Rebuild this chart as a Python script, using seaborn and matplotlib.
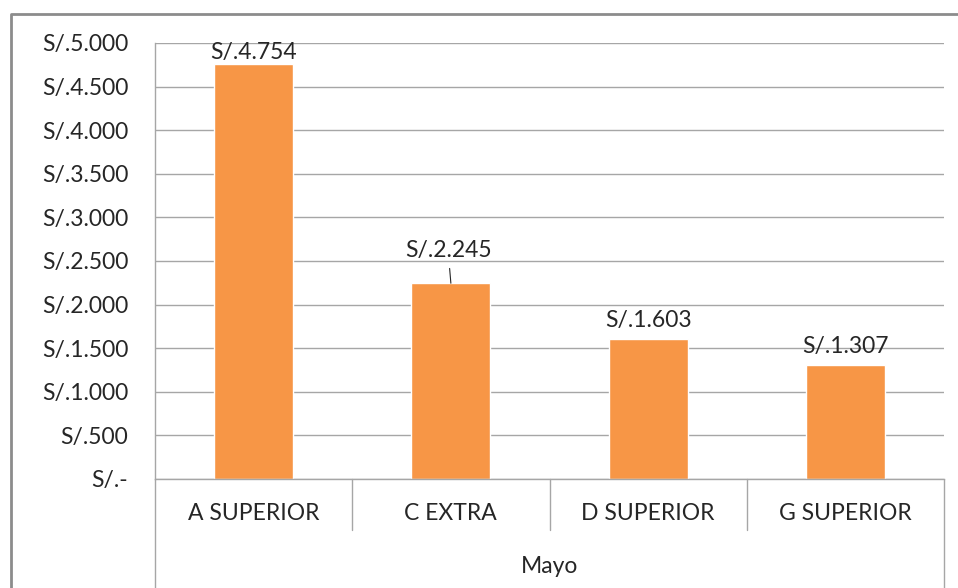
import matplotlib
matplotlib.use("Agg")
import matplotlib.pyplot as plt
import matplotlib.transforms as mtransforms
from matplotlib.lines import Line2D
import seaborn as sns

# Datos
productos = ["A SUPERIOR", "C EXTRA", "D SUPERIOR", "G SUPERIOR"]
ventas = [4754, 2245, 1603, 1307]
mes = "Mayo"

sns.set_style("white")
plt.rcParams["font.family"] = ["Lato", "DejaVu Sans"]

W, H = 958, 588
fig = plt.figure(figsize=(W / 100, H / 100), dpi=100)
ax = fig.add_axes([155 / W, 1 - 479 / H, (944 - 155) / W, (479 - 43) / H])

naranja = "#F79646"
gris = "#A6A6A6"
texto = "#262626"
fs = 16.5

sns.barplot(x=productos, y=ventas, color=naranja, width=0.4, saturation=1, ax=ax)
ax.set_xlim(-0.5, 3.5)
ax.set_ylim(0, 5000)


def soles(v):
    if v == 0:
        return "S/.-"
    return "S/." + f"{int(v):,}".replace(",", ".")


yt = list(range(0, 5001, 500))
ax.set_yticks(yt)
ax.set_yticklabels([soles(v) for v in yt], fontsize=fs, color=texto)
ax.tick_params(axis="y", length=5.8, color=gris, width=1, pad=13.5)
ax.set_xticks([])
ax.set_xlabel("")
ax.set_ylabel("")
ax.yaxis.grid(True, color=gris, linewidth=1)
ax.set_axisbelow(True)
for s in ["top", "right"]:
    ax.spines[s].set_visible(False)
for s in ["left", "bottom"]:
    ax.spines[s].set_color(gris)
    ax.spines[s].set_linewidth(1)

# etiquetas de datos
for i, v in enumerate(ventas):
    if i == 1:
        ax.annotate(soles(v), xy=(i, v), xytext=(-2, 16), textcoords="offset points",
                    ha="center", va="bottom", fontsize=fs, color=texto,
                    arrowprops=dict(arrowstyle="-", color=texto, lw=0.8,
                                    shrinkA=3, shrinkB=0))
    else:
        ax.annotate(soles(v), xy=(i, v), xytext=(0, 1 if i == 0 else 6),
                    textcoords="offset points", ha="center", va="bottom",
                    fontsize=fs, color=texto)

# eje de categorias en dos niveles
trans = mtransforms.blended_transform_factory(ax.transData, ax.transAxes)
for k, x in enumerate([-0.5, 0.5, 1.5, 2.5, 3.5]):
    y0 = -0.25 if k in (0, 4) else -0.117
    ax.add_line(Line2D([x, x], [0, y0], transform=trans, color=gris,
                       linewidth=1, clip_on=False))
for i, p in enumerate(productos):
    ax.text(i, -0.078, p, transform=trans, ha="center", va="center",
            fontsize=fs, color=texto, clip_on=False)
ax.text(1.5, -0.2, mes, transform=trans, ha="center", va="center",
        fontsize=fs, color=texto, clip_on=False)

# borde del grafico
fig.add_artist(Line2D([11 / W, 11 / W, 1.0], [0.0, 1 - 14 / H, 1 - 14 / H],
                      transform=fig.transFigure, color="#8C8C8C", linewidth=2))

fig.savefig("out.png", dpi=100)
